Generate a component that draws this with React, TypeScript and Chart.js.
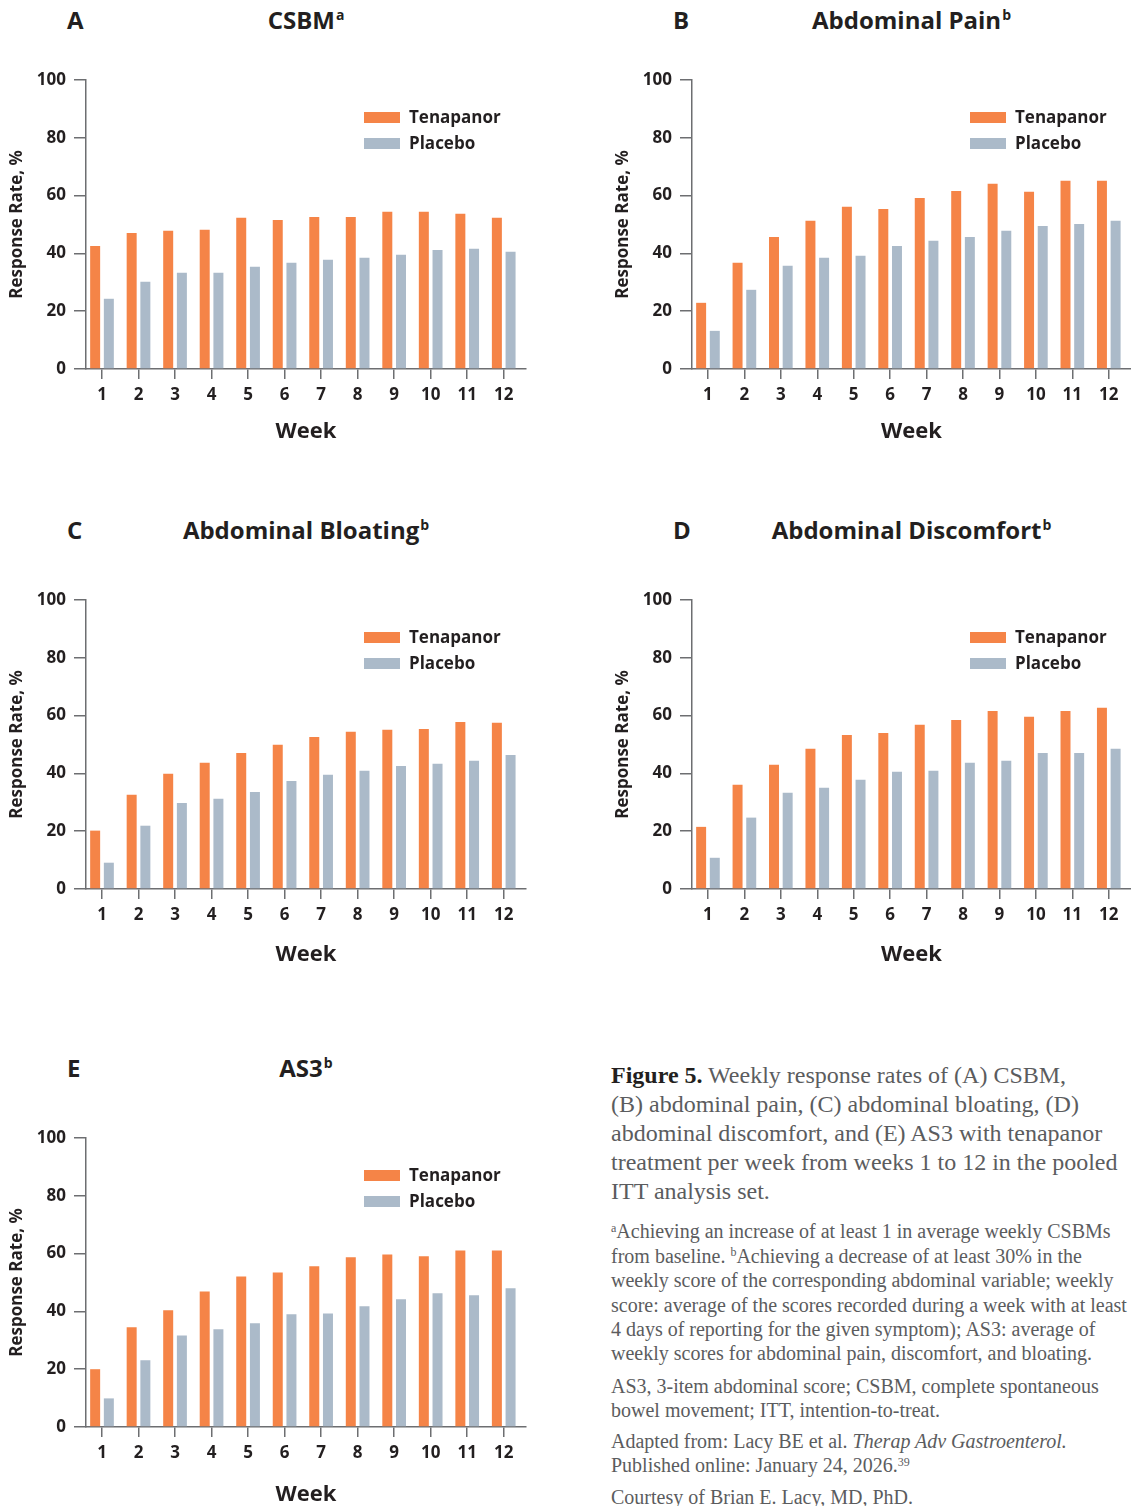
import React, { useEffect, useRef } from 'react';
import { Chart, registerables } from 'chart.js';

Chart.register(...registerables);

// ---------- data ----------
const weeks = [1, 2, 3, 4, 5, 6, 7, 8, 9, 10, 11, 12];
const seriesNames = ['Tenapanor', 'Placebo'];
const yTicks = [0, 20, 40, 60, 80, 100];

const csbmTenapanor = [42.6, 47.1, 47.8, 48.2, 52.3, 51.6, 52.6, 52.6, 54.4, 54.4, 53.7, 52.3];
const csbmPlacebo = [24.3, 30.2, 33.3, 33.3, 35.4, 36.8, 37.8, 38.5, 39.5, 41.2, 41.6, 40.6];
const painTenapanor = [22.9, 36.8, 45.7, 51.3, 56.1, 55.4, 59.2, 61.6, 64.1, 61.3, 65.1, 65.1];
const painPlacebo = [13.2, 27.4, 35.7, 38.5, 39.2, 42.6, 44.4, 45.7, 47.8, 49.5, 50.2, 51.3];
const bloatingTenapanor = [20.2, 32.6, 39.9, 43.7, 47.1, 49.9, 52.6, 54.4, 55.1, 55.4, 57.8, 57.5];
const bloatingPlacebo = [9.1, 21.9, 29.8, 31.2, 33.6, 37.4, 39.5, 40.9, 42.6, 43.3, 44.4, 46.4];
const discomfortTenapanor = [21.5, 36.1, 43.0, 48.5, 53.3, 54.0, 56.8, 58.5, 61.6, 59.6, 61.6, 62.7];
const discomfortPlacebo = [10.8, 24.7, 33.3, 35.0, 37.8, 40.6, 40.9, 43.7, 44.4, 47.1, 47.1, 48.5];
const as3Tenapanor = [20.0, 34.5, 40.4, 46.9, 52.1, 53.5, 55.6, 58.7, 59.7, 59.1, 61.1, 61.1];
const as3Placebo = [9.9, 23.1, 31.7, 33.8, 35.9, 39.0, 39.3, 41.8, 44.2, 46.3, 45.6, 48.0];

// ---------- style ----------
const ORANGE = '#f58447';
const GRAY = '#abbac9';
const INK = '#231f20';
const AXIS = '#6d6e71';
const CAPTION = '#5b5c5e';
const SANS = '"Open Sans", "Noto Sans", sans-serif';
const SERIF = '"Liberation Serif", "DejaVu Serif", serif';

const Y_AXIS_W = 86;
const PLOT_H = 289;
const TOP_PAD = 40;
const BOTTOM_H = 85;

type Panel = {
  letter: string;
  title: string;
  sup: string;
  plotLeft: number;
  plotTop: number;
  plotW: number;
  headerTop: number;
  weekOffset: number;
  tenapanor: number[];
  placebo: number[];
};

const panels: Panel[] = [
  { letter: 'A', title: 'CSBM', sup: 'a', plotLeft: 86, plotTop: 80, plotW: 440, headerTop: 7.8, weekOffset: 63, tenapanor: csbmTenapanor, placebo: csbmPlacebo },
  { letter: 'B', title: 'Abdominal Pain', sup: 'b', plotLeft: 692, plotTop: 80, plotW: 439, headerTop: 7.8, weekOffset: 63, tenapanor: painTenapanor, placebo: painPlacebo },
  { letter: 'C', title: 'Abdominal Bloating', sup: 'b', plotLeft: 86, plotTop: 600, plotW: 440, headerTop: 517.5, weekOffset: 66, tenapanor: bloatingTenapanor, placebo: bloatingPlacebo },
  { letter: 'D', title: 'Abdominal Discomfort', sup: 'b', plotLeft: 692, plotTop: 600, plotW: 439, headerTop: 517.5, weekOffset: 66, tenapanor: discomfortTenapanor, placebo: discomfortPlacebo },
  { letter: 'E', title: 'AS3', sup: 'b', plotLeft: 86, plotTop: 1138, plotW: 440, headerTop: 1056, weekOffset: 68, tenapanor: as3Tenapanor, placebo: as3Placebo },
];

const insideLegend = {
  id: 'insideLegend',
  afterDraw(chart: any) {
    const { ctx, chartArea } = chart;
    const x = chartArea.left + 278;
    const y0 = chartArea.top + 32;
    ctx.save();
    chart.data.datasets.forEach((ds: any, i: number) => {
      const y = y0 + i * 26;
      ctx.fillStyle = ds.backgroundColor;
      ctx.fillRect(x, y, 36, 11);
      ctx.fillStyle = INK;
      ctx.font = `bold 17px ${SANS}`;
      ctx.textBaseline = 'middle';
      ctx.textAlign = 'left';
      ctx.fillText(ds.label, x + 45, y + 6);
    });
    ctx.restore();
  },
};

function BarPanel({ p }: { p: Panel }) {
  const ref = useRef<HTMLCanvasElement | null>(null);
  const canvasLeft = p.plotLeft - Y_AXIS_W;
  const canvasTop = p.plotTop - TOP_PAD;
  const canvasW = Math.min(Y_AXIS_W + p.plotW + 5, 1131 - canvasLeft);
  const rightPad = canvasW - Y_AXIS_W - p.plotW;
  const canvasH = TOP_PAD + PLOT_H + BOTTOM_H;

  useEffect(() => {
    if (!ref.current) return;
    const tickFont = { family: SANS, size: 17, weight: 'bold' as const };
    const chart = new Chart(ref.current, {
      type: 'bar',
      data: {
        labels: weeks,
        datasets: [
          { label: seriesNames[0], data: p.tenapanor, backgroundColor: ORANGE, borderWidth: 0, categoryPercentage: 0.75, barPercentage: 0.73 },
          { label: seriesNames[1], data: p.placebo, backgroundColor: GRAY, borderWidth: 0, categoryPercentage: 0.75, barPercentage: 0.73 },
        ],
      },
      options: {
        responsive: false,
        animation: false,
        layout: { padding: { top: TOP_PAD, right: rightPad, bottom: 0, left: 0 } },
        plugins: { legend: { display: false }, tooltip: { enabled: false } },
        scales: {
          x: {
            type: 'linear',
            offset: false,
            min: 0.562,
            max: 12.61,
            afterBuildTicks: (s: any) => { s.ticks = weeks.map((v) => ({ value: v })); },
            afterFit: (s: any) => { s.height = BOTTOM_H; },
            grid: { offset: false, drawOnChartArea: false, drawTicks: true, tickLength: 10, color: AXIS, lineWidth: 1.5 },
            border: { display: true, color: AXIS, width: 1.5 },
            ticks: { autoSkip: false, padding: 6, color: INK, font: tickFont, maxRotation: 0, callback: (v: any) => String(v) },
            title: {
              display: true,
              text: 'Week',
              color: INK,
              font: { family: SANS, size: 22, weight: 'bold' },
              padding: { top: 0, bottom: BOTTOM_H - p.weekOffset - 13.2 },
            },
          },
          y: {
            type: 'linear',
            min: 0,
            max: 100,
            afterBuildTicks: (s: any) => { s.ticks = yTicks.map((v) => ({ value: v })); },
            afterFit: (s: any) => { s.width = Y_AXIS_W; },
            grid: { drawOnChartArea: false, drawTicks: true, tickLength: 12, color: AXIS, lineWidth: 1.5 },
            border: { display: true, color: AXIS, width: 1.5 },
            ticks: { padding: 8, color: INK, font: tickFont, callback: (v: any) => String(v) },
            title: {
              display: true,
              text: 'Response Rate, %',
              color: INK,
              font: { family: SANS, size: 17, weight: 'bold' },
              padding: { top: 7, bottom: 0 },
            },
          },
        },
      } as any,
      plugins: [insideLegend],
    });
    return () => chart.destroy();
  }, []);

  return (
    <>
      <div style={{ position: 'absolute', left: p.plotLeft - 19, top: p.headerTop, font: `bold 24px/24px ${SANS}`, color: INK, whiteSpace: 'nowrap' }}>
        {p.letter}
      </div>
      <div style={{ position: 'absolute', left: p.plotLeft, width: p.plotW, top: p.headerTop, textAlign: 'center', font: `bold 24px/24px ${SANS}`, color: INK, whiteSpace: 'nowrap' }}>
        {p.title}
        <span style={{ fontSize: 14, position: 'relative', top: -9, marginLeft: 1 }}>{p.sup}</span>
      </div>
      <canvas
        ref={ref}
        width={canvasW}
        height={canvasH}
        style={{ position: 'absolute', left: canvasLeft, top: canvasTop, width: canvasW, height: canvasH, display: 'block' }}
      />
    </>
  );
}

const supStyle: React.CSSProperties = { fontSize: '0.6em', position: 'relative', top: '-0.55em' };

function Lines({ top, size, lh, color, lines }: { top: number; size: number; lh: number; color: string; lines: React.ReactNode[] }) {
  return (
    <div style={{ position: 'absolute', left: 611, top, font: `${size}px/${lh}px ${SERIF}`, color, whiteSpace: 'nowrap' }}>
      {lines.map((l, i) => (
        <div key={i} style={{ height: lh }}>{l}</div>
      ))}
    </div>
  );
}

export default function App() {
  return (
    <div style={{ position: 'absolute', left: 0, top: 0, width: 1131, height: 1506, overflow: 'hidden', background: '#ffffff' }}>
      {panels.map((p) => (
        <BarPanel key={p.letter} p={p} />
      ))}
      <Lines
        top={1060.6}
        size={24}
        lh={29.2}
        color={CAPTION}
        lines={[
          <><b style={{ color: INK }}>Figure 5.</b> Weekly response rates of (A) CSBM,</>,
          '(B) abdominal pain, (C) abdominal bloating, (D)',
          'abdominal discomfort, and (E) AS3 with tenapanor',
          'treatment per week from weeks 1 to 12 in the pooled',
          'ITT analysis set.',
        ]}
      />
      <Lines
        top={1219.4}
        size={20}
        lh={24.4}
        color={CAPTION}
        lines={[
          <><span style={supStyle}>a</span>Achieving an increase of at least 1 in average weekly CSBMs</>,
          <>from baseline. <span style={supStyle}>b</span>Achieving a decrease of at least 30% in the</>,
          'weekly score of the corresponding abdominal variable; weekly',
          'score: average of the scores recorded during a week with at least',
          '4 days of reporting for the given symptom); AS3: average of',
          'weekly scores for abdominal pain, discomfort, and bloating.',
        ]}
      />
      <Lines
        top={1374}
        size={20}
        lh={24.4}
        color={CAPTION}
        lines={['AS3, 3-item abdominal score; CSBM, complete spontaneous', 'bowel movement; ITT, intention-to-treat.']}
      />
      <Lines
        top={1429}
        size={20}
        lh={24.4}
        color={CAPTION}
        lines={[
          <>Adapted from: Lacy BE et al. <i>Therap Adv Gastroenterol.</i></>,
          <>Published online: January 24, 2026.<span style={supStyle}>39</span></>,
        ]}
      />
      <Lines top={1484.5} size={20} lh={24.4} color={CAPTION} lines={['Courtesy of Brian E. Lacy, MD, PhD.']} />
    </div>
  );
}
